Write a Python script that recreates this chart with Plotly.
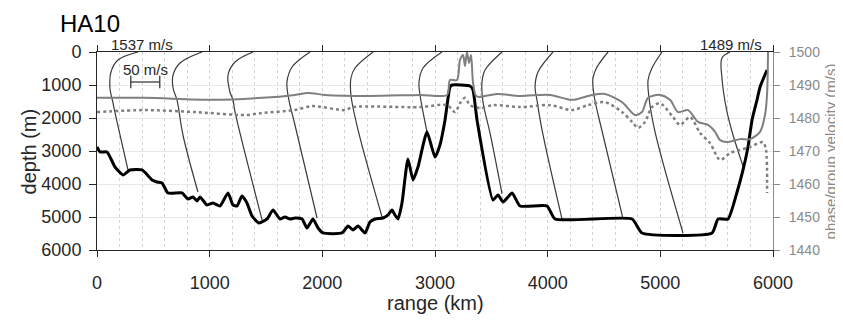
import plotly.graph_objects as go

# ---------------- data ----------------
# Bathymetry along the path: range (km) vs depth (m)
bathy_range = [0, 27, 89, 160, 231, 293, 400, 488, 533, 577, 630, 754, 808, 852, 888, 914, 976,
               1030, 1092, 1163, 1207, 1243, 1287, 1331, 1376, 1438, 1509, 1562, 1624, 1669, 1713,
               1757, 1820, 1864, 1917, 1962, 2006, 2175, 2228, 2272, 2317, 2379, 2423, 2468, 2539,
               2583, 2618, 2645, 2672, 2707, 2760, 2805, 2849, 2929, 3000, 3044, 3089, 3133, 3151,
               3311, 3337, 3373, 3515, 3559, 3604, 3684, 3755, 3994, 4065, 4749, 4837, 5459, 5512,
               5601, 5681, 5734, 5778, 5814, 5858, 5885, 5947]
bathy_depth = [2880, 3030, 3030, 3485, 3727, 3575, 3575, 3878, 3939, 3969, 4272, 4272, 4454, 4394,
               4515, 4394, 4636, 4575, 4666, 4272, 4636, 4666, 4363, 4575, 4969, 5181, 5060, 4787,
               5060, 5000, 5060, 5030, 5060, 5333, 5060, 5333, 5484, 5484, 5272, 5393, 5272, 5484,
               5151, 5060, 5030, 4939, 4787, 4939, 5060, 4575, 3242, 3878, 3485, 2424, 3182, 2818,
               2060, 1060, 1000, 1030, 1150, 2060, 4484, 4333, 4545, 4272, 4666, 4666, 5060, 5060,
               5484, 5484, 5060, 5060, 4242, 3575, 2878, 2060, 1454, 1060, 545]

# Sound-speed profiles drawn at their stations: range (km) vs depth (m)
p1_range = [364, 186, 124, 115, 142, 178, 275]
p1_depth = [0, 242, 606, 1090, 1545, 2121, 3575]
p2_range = [932, 737, 675, 675, 710, 763, 896]
p2_depth = [0, 333, 697, 1090, 1454, 2515, 4242]
p3_range = [1385, 1225, 1163, 1180, 1207, 1225, 1465]
p3_depth = [0, 303, 697, 1212, 1454, 1818, 5090]
p4_range = [1891, 1731, 1686, 1695, 1713, 1757, 1953]
p4_depth = [0, 455, 909, 1303, 1606, 2212, 5030]
p5_range = [2450, 2290, 2254, 2254, 2317, 2530]
p5_depth = [0, 485, 788, 1303, 2363, 5000]
p6_range = [3062, 2894, 2858, 2867, 2920, 2929]
p6_depth = [0, 485, 909, 1303, 2272, 2424]
p7_range = [3595, 3444, 3417, 3426, 3488, 3595]
p7_depth = [0, 545, 909, 1515, 2454, 4300]
p8_range = [4047, 3914, 3888, 3905, 3950, 4127]
p8_depth = [0, 606, 1060, 1454, 2363, 5060]
p9_range = [4536, 4438, 4402, 4411, 4491, 4669]
p9_depth = [0, 455, 788, 1303, 2515, 5060]
p10_range = [5015, 4926, 4891, 4900, 4953, 5201]
p10_depth = [0, 485, 848, 1394, 2424, 5484]
p11_range = [5618, 5547, 5547, 5592, 5645, 5738]
p11_depth = [0, 182, 788, 1818, 2515, 3500]

# Phase velocity (solid) and group velocity (dotted): range (km) vs m/s
phase_range = [0, 426, 1021, 1465, 1757, 1873, 2024, 2423, 2867, 3107, 3133, 3195, 3222, 3249,
               3266, 3284, 3302, 3320, 3337, 3364, 3400, 3550, 3754, 4021, 4216, 4394, 4509, 4660,
               4775, 4837, 4891, 4997, 5086, 5157, 5246, 5335, 5423, 5486, 5530, 5592, 5707, 5796,
               5885, 5929, 5947, 5956]
phase_vel = [1486.1, 1486.1, 1485.5, 1486.1, 1487.0, 1487.6, 1487.0, 1486.7, 1487.0, 1487.0,
             1491.5, 1491.5, 1497.6, 1499.1, 1495.8, 1500.0, 1496.7, 1499.1, 1490.9, 1486.7,
             1486.4, 1487.3, 1486.7, 1487.0, 1485.5, 1487.0, 1487.3, 1484.8, 1480.9, 1481.8,
             1486.1, 1487.0, 1485.5, 1481.8, 1482.4, 1478.8, 1477.9, 1475.8, 1473.3, 1472.7,
             1473.6, 1473.6, 1475.8, 1480.9, 1487.0, 1500.0]
group_range = [0, 426, 870, 1314, 1465, 1757, 1908, 2201, 2272, 2867, 3107, 3178, 3222, 3266,
               3311, 3400, 3515, 3754, 4021, 4216, 4358, 4509, 4660, 4749, 4802, 4864, 4926, 4997,
               5112, 5175, 5264, 5352, 5441, 5530, 5619, 5707, 5796, 5911, 5938, 5947]
group_vel = [1481.8, 1482.4, 1481.8, 1480.9, 1481.5, 1482.4, 1483.6, 1482.4, 1483.3, 1483.3,
             1483.9, 1481.8, 1484.5, 1486.1, 1483.9, 1483.0, 1483.9, 1483.3, 1483.9, 1482.4,
             1483.9, 1484.8, 1481.8, 1478.8, 1477.0, 1478.8, 1483.3, 1484.5, 1480.3, 1477.9,
             1480.3, 1475.5, 1472.4, 1467.3, 1469.4, 1470.3, 1471.2, 1472.7, 1470.3, 1457.3]

# Axis ticks
range_ticks = [0, 1000, 2000, 3000, 4000, 5000, 6000]
depth_ticks = [0, 1000, 2000, 3000, 4000, 5000, 6000]
vel_ticks = [1440, 1450, 1460, 1470, 1480, 1490, 1500]

# Annotation texts / speed scale
surface_speed_labels = ["1537 m/s", "1489 m/s"]
surface_label_range = [400, 5627]
scale_speed = 50            # m/s represented by the scale bar
km_per_mps = 5.14           # horizontal profile scale (km per m/s)
scale_bar_start = 300       # km
scale_bar_depth = 909       # m

# ---------------- figure ----------------
DARK = "#262626"
GRAY = "#8a8a8a"
FONT = "Liberation Sans, Arial, sans-serif"

fig = go.Figure()

profiles = [(p1_range, p1_depth), (p2_range, p2_depth), (p3_range, p3_depth),
            (p4_range, p4_depth), (p5_range, p5_depth), (p6_range, p6_depth),
            (p7_range, p7_depth), (p8_range, p8_depth), (p9_range, p9_depth),
            (p10_range, p10_depth), (p11_range, p11_depth)]
for pr, pd_ in profiles:
    fig.add_trace(go.Scatter(x=pr, y=pd_, mode="lines",
                             line=dict(color="#3a3a3a", width=1.2, shape="spline", smoothing=1.0),
                             showlegend=False, hoverinfo="skip"))

fig.add_trace(go.Scatter(x=bathy_range, y=bathy_depth, mode="lines",
                         line=dict(color="black", width=3, shape="spline", smoothing=0.5),
                         showlegend=False))

# scale bar
sb_x = [scale_bar_start, scale_bar_start + scale_speed * km_per_mps]
fig.add_trace(go.Scatter(x=sb_x, y=[scale_bar_depth, scale_bar_depth], mode="lines+markers",
                         line=dict(color="#3a3a3a", width=1.3),
                         marker=dict(symbol="line-ns-open", size=9,
                                     line=dict(color="#3a3a3a", width=1.3)),
                         showlegend=False, hoverinfo="skip"))

fig.add_trace(go.Scatter(x=phase_range, y=phase_vel, yaxis="y2", mode="lines",
                         line=dict(color="#7f7f7f", width=2, shape="spline", smoothing=0.8),
                         showlegend=False))
fig.add_trace(go.Scatter(x=group_range, y=group_vel, yaxis="y2", mode="lines",
                         line=dict(color="#7f7f7f", width=2.5, dash="dot", shape="spline",
                                   smoothing=0.8),
                         showlegend=False))

annotations = []
for txt, xr in zip(surface_speed_labels, surface_label_range):
    annotations.append(dict(x=xr, xref="x", y=1.04, yref="paper", text=txt, showarrow=False,
                            font=dict(family=FONT, size=15, color=DARK),
                            xanchor="center", yanchor="middle"))
annotations.append(dict(x=scale_bar_start + scale_speed * km_per_mps / 2, xref="x", y=545,
                        yref="y", text=f"{scale_speed} m/s", showarrow=False,
                        font=dict(family=FONT, size=15, color=DARK),
                        xanchor="center", yanchor="middle"))
annotations.append(dict(x=-0.0577, xref="paper", y=1.22, yref="paper", text="HA10",
                        showarrow=False, font=dict(family=FONT, size=24, color="black"),
                        xanchor="left", yanchor="top"))
annotations.append(dict(x=-0.1, xref="paper", y=0.5, yref="paper", text="depth (m)",
                        textangle=-90, showarrow=False,
                        font=dict(family=FONT, size=20, color=DARK),
                        xanchor="center", yanchor="middle"))
annotations.append(dict(x=1.085, xref="paper", y=0.5, yref="paper",
                        text="phase/group velocity (m/s)", textangle=-90, showarrow=False,
                        font=dict(family=FONT, size=15, color=GRAY),
                        xanchor="center", yanchor="middle"))
annotations.append(dict(x=0.5, xref="paper", y=-0.27, yref="paper", text="range (km)",
                        showarrow=False, font=dict(family=FONT, size=20, color=DARK),
                        xanchor="center", yanchor="middle"))

# The page body has an 8px margin, so the figure is sized to fill the window exactly.
fig.update_layout(
    width=835, height=317,
    margin=dict(l=89, r=70, t=44, b=75, autoexpand=False),
    paper_bgcolor="white", plot_bgcolor="white",
    font=dict(family=FONT, color=DARK),
    showlegend=False,
    annotations=annotations,
    xaxis=dict(range=[0, 6000], tickvals=range_ticks, ticks="outside", ticklen=6,
               tickcolor=DARK, tickwidth=1, showline=True, linecolor=DARK, linewidth=1,
               mirror="ticks", showgrid=False, zeroline=False,
               tickfont=dict(family=FONT, size=18, color=DARK), ticklabelstandoff=10,
               minor=dict(dtick=200, showgrid=True, gridcolor="#d4d4d4", griddash="dot",
                          gridwidth=1, ticks="")),
    yaxis=dict(range=[6000, 0], tickvals=depth_ticks, ticks="outside", ticklen=7,
               tickcolor=DARK, showline=True, linecolor=DARK, linewidth=1,
               showgrid=True, gridcolor="#e8e8e8", gridwidth=1, zeroline=False,
               tickfont=dict(family=FONT, size=18, color=DARK), ticklabelstandoff=4),
    yaxis2=dict(range=[1440, 1500], tickvals=vel_ticks, overlaying="y", side="right",
                ticks="outside", ticklen=6, tickcolor=GRAY, showline=True, linecolor=GRAY,
                linewidth=1, showgrid=False, zeroline=False,
                tickfont=dict(family=FONT, size=14, color=GRAY), ticklabelstandoff=6),
)

fig.write_html("out.html")
